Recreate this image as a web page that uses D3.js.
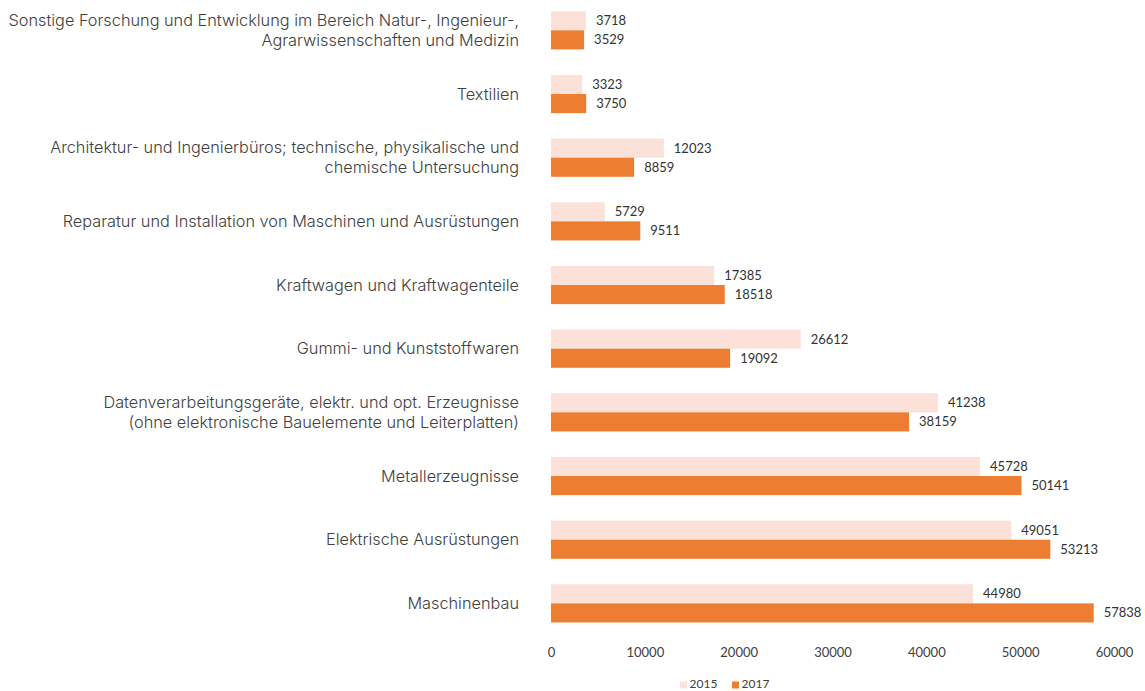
<!DOCTYPE html>
<html>
<head>
<meta charset="utf-8">
<script src="https://cdn.jsdelivr.net/npm/d3@7"></script>
<style>
  html, body { margin: 0; padding: 0; background: #fff; }
  svg { display: block; }
</style>
</head>
<body>
<svg id="chart" width="1145" height="691"></svg>
<script>
const categories = [
  "Sonstige Forschung und Entwicklung im Bereich Natur-, Ingenieur-,|Agrarwissenschaften und Medizin",
  "Textilien",
  "Architektur- und Ingenierbüros; technische, physikalische und|chemische Untersuchung",
  "Reparatur und Installation von Maschinen und Ausrüstungen",
  "Kraftwagen und Kraftwagenteile",
  "Gummi- und Kunststoffwaren",
  "Datenverarbeitungsgeräte, elektr. und opt. Erzeugnisse|(ohne elektronische Bauelemente und Leiterplatten)",
  "Metallerzeugnisse",
  "Elektrische Ausrüstungen",
  "Maschinenbau"
];
const series = ["2015", "2017"];
const values2015 = [3718, 3323, 12023, 5729, 17385, 26612, 41238, 45728, 49051, 44980];
const values2017 = [3529, 3750, 8859, 9511, 18518, 19092, 38159, 50141, 53213, 57838];
const xTicks = [0, 10000, 20000, 30000, 40000, 50000, 60000];
const colors = { "2015": "#FBE1D7", "2017": "#ED7D31" };

const svg = d3.select("#chart");
const x = d3.scaleLinear().domain([0, 60000]).range([551, 1114]);
const y = d3.scaleBand().domain(categories).range([-1.5, 635.2]).paddingInner(0.4).paddingOuter(0.2);
const ys = d3.scaleBand().domain(series).range([0, y.bandwidth()]);

const data = categories.map((c, i) => ({ c, v: { "2015": values2015[i], "2017": values2017[i] } }));

const g = svg.append("g");
const rows = g.selectAll("g.row").data(data).join("g")
  .attr("transform", d => `translate(0,${y(d.c)})`);

rows.selectAll("rect").data(d => series.map(s => ({ s, v: d.v[s] }))).join("rect")
  .attr("x", x(0))
  .attr("y", d => ys(d.s))
  .attr("width", d => x(d.v) - x(0))
  .attr("height", ys.bandwidth())
  .attr("fill", d => colors[d.s]);

rows.selectAll("text.val").data(d => series.map(s => ({ s, v: d.v[s] }))).join("text")
  .attr("class", "val")
  .attr("x", d => x(d.v) + 10)
  .attr("y", d => ys(d.s) + ys.bandwidth() / 2)
  .attr("dy", "0.35em")
  .attr("font-family", "Lato, 'Open Sans', sans-serif")
  .attr("font-size", "13px")
  .attr("fill", "#333")
  .text(d => d.v);

// category labels
const lbl = g.selectAll("text.cat").data(categories).join("text")
  .attr("class", "cat")
  .attr("text-anchor", "end")
  .attr("font-family", "Inter, Roboto, sans-serif")
  .attr("font-weight", 300)
  .attr("font-size", "16.3px")
  .attr("fill", "#404040");
lbl.each(function(c) {
  const lines = c.split("|");
  const cy = y(c) + y.bandwidth() / 2;
  const t = d3.select(this);
  lines.forEach((ln, j) => {
    t.append("tspan")
      .attr("x", 519)
      .attr("y", cy + (j - (lines.length - 1) / 2) * 20)
      .attr("dy", "0.35em")
      .text(ln);
  });
});

// x axis
const axis = d3.axisBottom(x).tickValues(xTicks).tickSize(0).tickPadding(0).tickFormat(d3.format("d"));
const ax = svg.append("g").attr("transform", "translate(0,648)").call(axis);
ax.select(".domain").remove();
ax.selectAll("text")
  .attr("font-family", "Lato, 'Open Sans', sans-serif")
  .attr("font-size", "13px")
  .attr("fill", "#404040");

// legend
const leg = svg.append("g");
const legX = { "2015": 680, "2017": 732 };
series.forEach(s => {
  leg.append("rect").attr("x", legX[s]).attr("y", 681.5).attr("width", 7).attr("height", 7).attr("fill", colors[s]);
  leg.append("text").attr("x", legX[s] + 9.5).attr("y", 683.5).attr("dy", "0.35em")
    .attr("font-family", "Lato, 'Open Sans', sans-serif")
    .attr("font-size", "12px")
    .attr("fill", "#404040")
    .text(s);
});
</script>
</body>
</html>
